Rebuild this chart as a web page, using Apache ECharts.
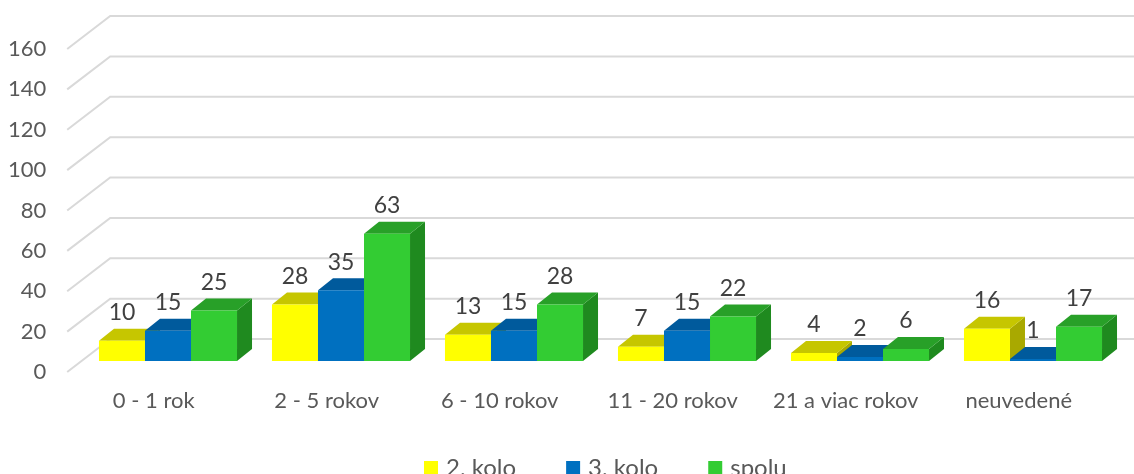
<!DOCTYPE html>
<html>
<head>
<meta charset="utf-8">
<script src="https://cdn.jsdelivr.net/npm/echarts@6/dist/echarts.min.js"></script>
<style>
  html, body { margin: 0; background: #fff; }
  #chart { width: 1134px; height: 474px; }
</style>
</head>
<body>
<div id="chart"></div>
<script>
// data
var categories = ['0 - 1 rok', '2 - 5 rokov', '6 - 10 rokov', '11 - 20 rokov', '21 a viac rokov', 'neuvedené'];
var kolo2 = [10, 28, 13, 7, 4, 16];
var kolo3 = [15, 35, 15, 15, 2, 1];
var spolu = [25, 63, 28, 22, 6, 17];
var yTicks = [0, 20, 40, 60, 80, 100, 120, 140, 160];
var seriesNames = ['2. kolo', '3. kolo', 'spolu'];

// 3D look: offsets from the bar front plane
var frontWall = [-14.3, 11];
var barDepth = [15, -12];
var backWall = [28.7, -22];

var palette = [
    { front: '#ffff00', top: '#c6c600', side: '#a9a900' },
    { front: '#0070c0', top: '#005a9c', side: '#004c86' },
    { front: '#33cc33', top: '#28a028', side: '#1f8a1f' }
];

var font = 'Lato, "Open Sans", sans-serif';

// bars as boxes
function boxRenderer(k) {
    return function (params, api) {
        var cat = api.value(0), v = api.value(1);
        var base = api.coord([cat, 0]);
        var top = api.coord([cat, v]);
        var band = api.size([1, 0])[0];
        var w = band * 0.266;
        var x0 = base[0] - band / 2 + band * 0.101 + k * w;
        var ty = top[1], by = base[1];
        var dx = barDepth[0], dy = barDepth[1];
        var c = palette[k];
        return {
            type: 'group',
            children: [
                { type: 'polygon', shape: { points: [[x0 + w, ty], [x0 + w, by], [x0 + w + dx, by + dy], [x0 + w + dx, ty + dy]] },
                  style: { fill: c.side } },
                { type: 'polygon', shape: { points: [[x0, ty], [x0 + w, ty], [x0 + w + dx, ty + dy], [x0 + dx, ty + dy]] },
                  style: { fill: c.top } },
                { type: 'rect', shape: { x: x0, y: ty, width: w, height: by - ty },
                  style: { fill: c.front } },
                { type: 'text', style: { text: String(v), x: x0 + w / 2, y: ty - 28, align: 'center', verticalAlign: 'middle',
                  fontSize: 23, fontFamily: font, fill: '#404040' } }
            ]
        };
    };
}

// walls: diagonal + back line for each tick
function gridRenderer(params, api) {
    var y = api.coord([0, api.value(1)])[1];
    var cx = params.coordSys.x;
    return {
        type: 'polyline',
        shape: { points: [[cx + frontWall[0], y + frontWall[1]], [cx + backWall[0], y + backWall[1]], [1140, y + backWall[1]]] },
        style: { stroke: '#d9d9d9', lineWidth: 2, fill: null }
    };
}

var chart = echarts.init(document.getElementById('chart'));

var series = [{
    type: 'custom',
    xAxisIndex: 0, yAxisIndex: 0,
    z: 1,
    silent: true,
    renderItem: gridRenderer,
    data: yTicks.map(function (v) { return [0, v]; })
}];
[kolo2, kolo3, spolu].forEach(function (arr, k) {
    series.push({
        name: seriesNames[k],
        type: 'custom',
        xAxisIndex: 0, yAxisIndex: 0,
        z: 2,
        itemStyle: { color: palette[k].front },
        renderItem: boxRenderer(k),
        data: arr.map(function (v, i) { return [i, v]; })
    });
});

var option = {
    animation: false,
    grid: [
        // bar front plane
        { left: 81.5, width: 1038, top: 38, bottom: 113 },
        // front wall plane (labels)
        { left: 67.2, width: 1038, top: 49, bottom: 102 }
    ],
    xAxis: [
        { type: 'category', gridIndex: 0, data: categories, show: false },
        { type: 'category', gridIndex: 1, data: categories,
          axisLine: { show: false }, axisTick: { show: false },
          axisLabel: { interval: 0, margin: 18, fontSize: 22, fontFamily: font, color: '#595959' } }
    ],
    yAxis: [
        { type: 'value', gridIndex: 0, min: 0, max: 160, interval: 20, show: false },
        { type: 'value', gridIndex: 1, min: 0, max: 160, interval: 20,
          axisLine: { show: false }, axisTick: { show: false }, splitLine: { show: false },
          axisLabel: { margin: 21, fontSize: 22, fontFamily: font, color: '#595959' } }
    ],
    legend: {
        data: seriesNames,
        left: 419,
        top: 451,
        icon: 'rect',
        itemWidth: 14,
        itemHeight: 14,
        itemGap: 50,
        textStyle: { fontSize: 24, fontFamily: font, color: '#595959', padding: [0, 0, 0, 3] }
    },
    series: series
};

chart.setOption(option);
window.onresize = function () { chart.resize(); };
</script>
</body>
</html>
